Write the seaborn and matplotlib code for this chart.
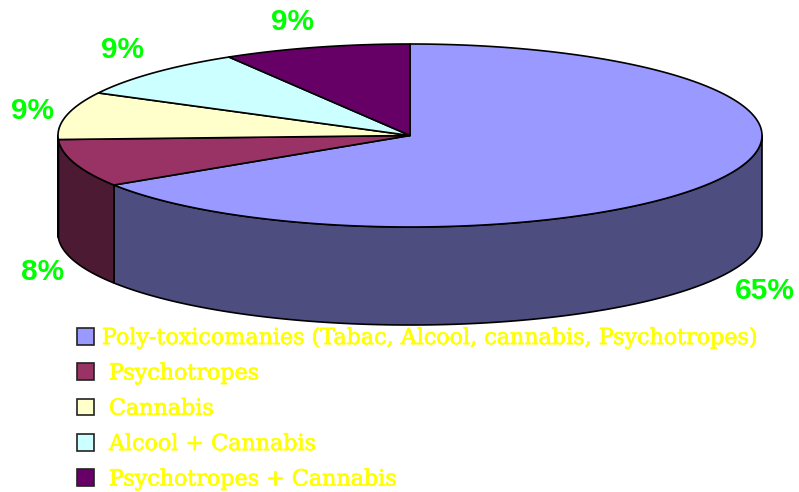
import numpy as np
import matplotlib
matplotlib.use("Agg")
import matplotlib.pyplot as plt
import matplotlib.patheffects as pe
from matplotlib.patches import Patch
import seaborn as sns

categories = ["Poly-toxicomanies (Tabac, Alcool, cannabis, Psychotropes)",
              " Psychotropes", " Cannabis", " Alcool + Cannabis", " Psychotropes + Cannabis"]
values = [65.9, 8.4, 8.4, 8.7, 8.6]
value_labels = ["65%", "8%", "9%", "9%", "9%"]
top_colors = ["#9999ff", "#993366", "#ffffcc", "#ccffff", "#660066"]
side_colors = ["#4d4d7f", "#4d1a33", "#7f7f66", "#667f7f", "#330033"]
label_xy = [(764.5, 291), (43, 272), (33, 111), (122, 50), (292, 22)]

CX, CY, RX, RY, DEPTH = 410, 135.5, 352, 91.5, 98

sns.set_theme(style="white")
fig = plt.figure(figsize=(7.99, 4.92), dpi=100, facecolor="white")
ax = fig.add_axes([0, 0, 1, 1])
ax.set_xlim(0, 799)
ax.set_ylim(492, 0)
ax.axis("off")


def rim(a, b, dy=0.0):
    t = np.radians(np.linspace(a, b, max(int(abs(b - a)) * 2, 2)))
    return CX + RX * np.sin(t), CY - RY * np.cos(t) + dy


edges = np.concatenate([[0], np.cumsum(values)]) / np.sum(values) * 360
for i in range(len(values)):
    a, b = max(edges[i], 90), min(edges[i + 1], 270)
    if b > a:
        x, y = rim(a, b)
        xb, yb = rim(b, a, DEPTH)
        ax.fill(np.r_[x, xb], np.r_[y, yb], facecolor=side_colors[i],
                edgecolor="black", lw=1.2, joinstyle="round", zorder=2)
for i in range(len(values)):
    x, y = rim(edges[i], edges[i + 1])
    ax.fill(np.r_[CX, x], np.r_[CY, y], facecolor=top_colors[i],
            edgecolor="black", lw=1.2, joinstyle="round", zorder=3)

for (lx, ly), t in zip(label_xy, value_labels):
    ax.text(lx, ly, t, color="#00ff00", fontsize=21.5, fontweight="bold",
            family="Liberation Sans", ha="center", va="center", zorder=4)

handles = [Patch(facecolor=c, edgecolor="#222222", lw=1.2) for c in top_colors]
leg = ax.legend(handles, categories, loc="upper left", bbox_to_anchor=(77 / 799, 1 - 327 / 492),
                frameon=False, borderaxespad=0, borderpad=0,
                prop={"family": "DejaVu Serif", "size": 16.0},
                labelcolor="#ffff00", handlelength=0.76, handleheight=0.76,
                handletextpad=0.36, labelspacing=0.6)
for t in leg.get_texts():
    t.set_path_effects([pe.withStroke(linewidth=0.5, foreground="#ffff00")])
fig.savefig("out.png", dpi=100, facecolor="white")
